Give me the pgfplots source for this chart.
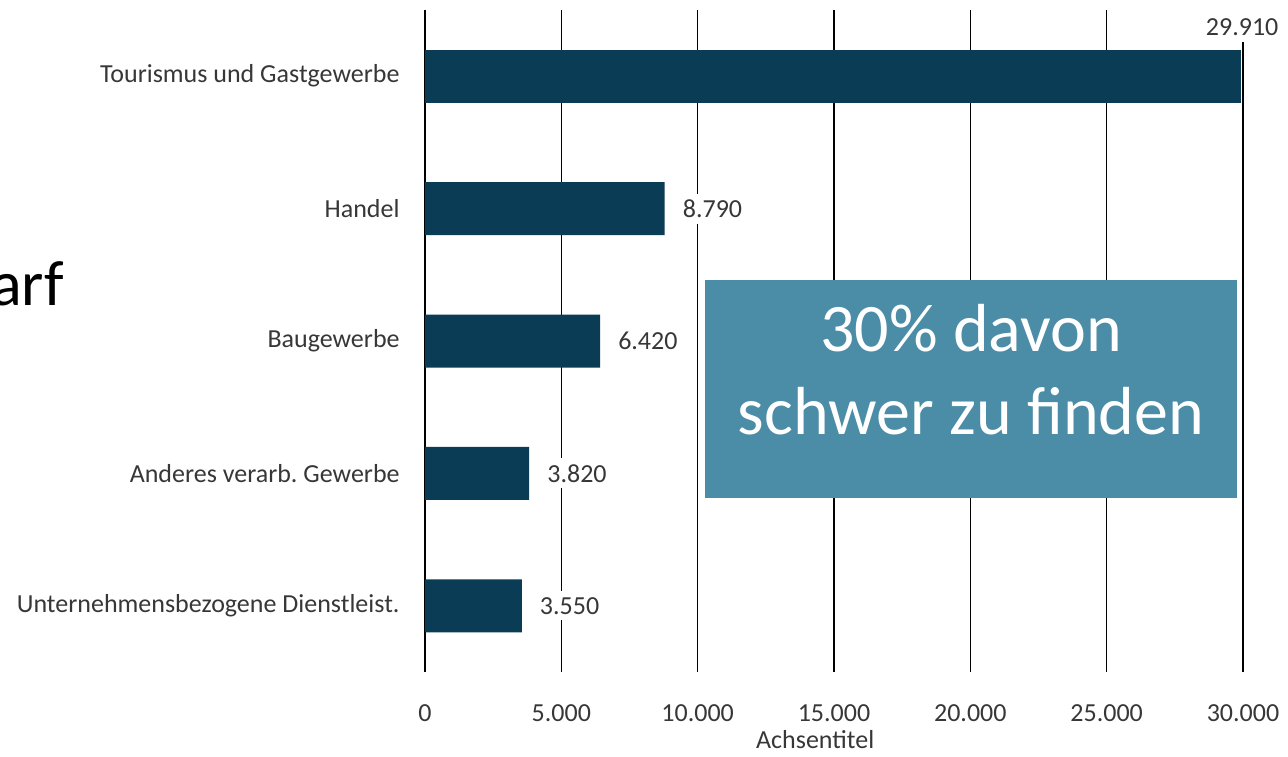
\documentclass[border=0pt]{standalone}
\usepackage{fontspec}
\setmainfont{Carlito}
\usepackage{pgfplots}
\pgfplotsset{compat=1.18}
\frenchspacing
\definecolor{barc}{RGB}{11,60,85}
\definecolor{boxc}{RGB}{75,140,166}
\definecolor{txt}{RGB}{55,55,55}
\begin{document}
\begin{tikzpicture}
\useasboundingbox (0,0) rectangle (1288bp,757bp);
\node[anchor=base east, inner sep=0pt, font=\fontsize{64bp}{70bp}\selectfont] at (64bp,451bp) {arf};
\begin{axis}[
  at={(425bp,85bp)}, anchor=south west,
  scale only axis, width=818bp, height=662bp,
  clip=false,
  xbar, bar width=53bp, bar shift=0pt,
  xmin=0, xmax=30000, ymin=-0.5, ymax=4.5, y dir=reverse,
  xtick={0,5000,10000,15000,20000,25000,30000},
  xticklabels={0,5.000,10.000,15.000,20.000,25.000,30.000},
  ytick={0,1,2,3,4},
  yticklabels={Tourismus und Gastgewerbe, Handel, Baugewerbe, Anderes verarb. Gewerbe, Unternehmensbezogene Dienstleist.},
  axis line style={draw=none}, tick style={draw=none},
  ticklabel style={font=\fontsize{26bp}{30bp}\selectfont, text=txt},
  xticklabel style={anchor=center, yshift=-41bp},
  yticklabel style={anchor=east, inner sep=0pt, xshift=-21bp},
  xlabel={Achsentitel},
  xlabel style={at={(axis description cs:0.477,0)}, anchor=center, yshift=-68bp, font=\fontsize{26bp}{30bp}\selectfont, text=txt},
  /pgf/number format/.cd, 1000 sep={.}, assume math mode=true,
]
\pgfplotsinvokeforeach{0,5000,10000,15000,20000,25000}{
  \draw[black, line width=1.2bp] (axis cs:#1,-0.5) -- (axis cs:#1,4.5);
}
\draw[black, line width=1.2bp] (axis cs:30000,-0.26) -- (axis cs:30000,4.5);
\addplot[fill=barc, draw=none] coordinates {(29910,0)};
\addplot[fill=barc, draw=none,
  nodes near coords, point meta=x,
  every node near coord/.append style={font=\fontsize{26bp}{30bp}\selectfont, text=txt, fill=white, draw=none, inner xsep=2bp, inner ysep=6bp, xshift=16bp, anchor=west}]
  coordinates {(8790,1) (6420,2) (3820,3) (3550,4)};
\node[font=\fontsize{26bp}{30bp}\selectfont, text=txt, inner sep=2bp] at (axis cs:29970,-0.37) {29.910};
\end{axis}
\fill[boxc] (705bp,259bp) rectangle (1237bp,477bp);
\node[anchor=base, inner sep=0pt, text=white, font=\fontsize{68bp}{80bp}\selectfont] at (971bp,405bp) {30\% davon};
\node[anchor=base, inner sep=0pt, text=white, font=\fontsize{68bp}{80bp}\selectfont] at (971bp,322bp) {schwer zu finden};
\end{tikzpicture}
\end{document}
